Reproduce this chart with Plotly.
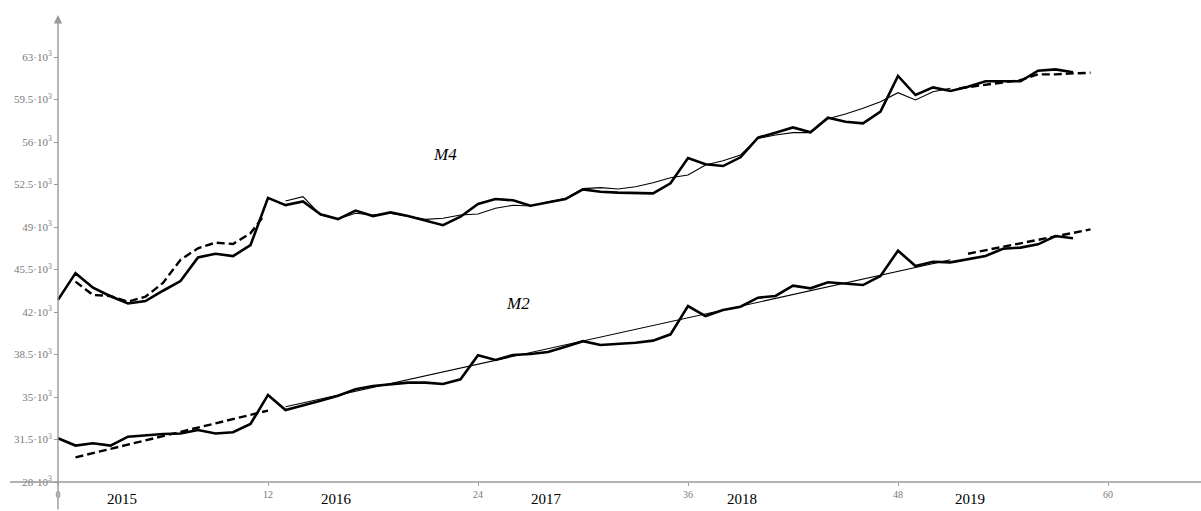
import plotly.graph_objects as go

# ---------------- data (values in thousands) ----------------
months = list(range(0, 59))
m4_actual = [43.0, 45.2, 44.0, 43.3, 42.7, 42.9, 43.75, 44.55, 46.5, 46.8, 46.6, 47.5,
             51.4, 50.8, 51.1, 50.05, 49.65, 50.35, 49.9, 50.2, 49.9, 49.5, 49.15, 49.85,
             50.9, 51.3, 51.2, 50.75, 51.0, 51.3, 52.1, 51.9, 51.83, 51.83, 51.77, 52.6,
             54.68, 54.16, 54.02, 54.74, 56.36, 56.77, 57.2, 56.8, 58.0, 57.67, 57.54, 58.5,
             61.44, 59.87, 60.5, 60.2, 60.55, 61.0, 61.0, 61.0, 61.87, 61.98, 61.74]

m4_fit_months = list(range(13, 52))
m4_fit = [51.14, 51.5, 49.99, 49.66, 50.13, 49.99, 50.13, 49.85, 49.63, 49.72, 49.99,
          50.07, 50.54, 50.79, 50.73, 51.08, 51.34, 52.16, 52.24, 52.13, 52.32, 52.65,
          53.06, 53.28, 54.1, 54.46, 54.93, 56.3, 56.58, 56.77, 56.77, 57.92, 58.31,
          58.78, 59.32, 60.06, 59.46, 60.14, 60.42]

m4_fc1_months = [1, 2, 3, 4, 5, 6, 7, 8, 9, 10, 11, 11.8]
m4_fc1 = [44.5, 43.4, 43.32, 42.85, 43.26, 44.4, 46.3, 47.25, 47.71, 47.6, 48.48, 50.0]

m4_fc2_months = [51.5, 53, 54, 55, 56, 57, 58, 59]
m4_fc2 = [60.42, 60.7, 60.9, 61.1, 61.57, 61.57, 61.65, 61.7]

m2_actual = [31.6, 31.0, 31.19, 31.0, 31.73, 31.87, 31.95, 32.0, 32.28, 32.0, 32.1, 32.78,
             35.17, 33.93, 34.29, 34.7, 35.11, 35.64, 35.9, 36.07, 36.18, 36.18, 36.07, 36.46,
             38.44, 38.05, 38.46, 38.54, 38.7, 39.14, 39.6, 39.28, 39.36, 39.47, 39.64, 40.16,
             42.49, 41.67, 42.16, 42.44, 43.18, 43.32, 44.17, 43.95, 44.45, 44.36, 44.22, 44.97,
             47.05, 45.79, 46.14, 46.09, 46.34, 46.61, 47.21, 47.3, 47.57, 48.26, 48.07]

m2_trend_months = [13, 51]
m2_trend = [34.2, 46.3]
m2_fc1_months = [1, 12]
m2_fc1 = [30.03, 33.88]
m2_fc2_months = [52, 59]
m2_fc2 = [46.8, 48.8]

x_tick_vals = [0, 12, 24, 36, 48, 60]
y_tick_vals = [28, 31.5, 35, 38.5, 42, 45.5, 49, 52.5, 56, 59.5, 63]
y_tick_text = ["28", "31.5", "35", "38.5", "42", "45.5", "49", "52.5", "56", "59.5", "63"]
years = ["2015", "2016", "2017", "2018", "2019"]
year_pos = [3.66, 15.94, 27.9, 39.1, 52.1]
series_labels = ["M4", "M2"]
series_label_pos = [(22.1, 54.93), (26.3, 42.7)]

# ---------------- figure ----------------
K = 1000.0
def sc(v):
    return [a * K for a in v]

fig = go.Figure()
thick = dict(color="black", width=2.6)
thin = dict(color="black", width=1.1)
dash = dict(color="black", width=2.4, dash="8px,4px")

fig.add_trace(go.Scatter(x=m4_fit_months, y=sc(m4_fit), mode="lines", line=thin))
fig.add_trace(go.Scatter(x=m4_fc1_months, y=sc(m4_fc1), mode="lines", line=dash))
fig.add_trace(go.Scatter(x=m4_fc2_months, y=sc(m4_fc2), mode="lines", line=dash))
fig.add_trace(go.Scatter(x=months, y=sc(m4_actual), mode="lines", line=thick))

fig.add_trace(go.Scatter(x=m2_trend_months, y=sc(m2_trend), mode="lines", line=thin))
fig.add_trace(go.Scatter(x=m2_fc1_months, y=sc(m2_fc1), mode="lines", line=dash))
fig.add_trace(go.Scatter(x=m2_fc2_months, y=sc(m2_fc2), mode="lines", line=dash))
fig.add_trace(go.Scatter(x=months, y=sc(m2_actual), mode="lines", line=thick))

W, H = 1201, 511
px_per_month = 17.5
x0_px = 58
y28_px = 482
val_per_px = 3500.0 / 42.5
xr = [-x0_px / px_per_month, (W - x0_px) / px_per_month]
yr = [28000 - (H - y28_px) * val_per_px, 63000 + 57 * val_per_px]

serif = "Liberation Serif, Times New Roman, serif"
axis_grey = "#9a9a9a"

fig.update_layout(
    width=W, height=H,
    margin=dict(l=0, r=0, t=0, b=0),
    plot_bgcolor="white", paper_bgcolor="white",
    showlegend=False,
    xaxis=dict(range=xr, showgrid=False, zeroline=False, showline=False,
               anchor="free", position=(H - y28_px) / H,
               tickvals=x_tick_vals, ticktext=[str(v) for v in x_tick_vals],
               ticks="outside", ticklen=3, tickcolor=axis_grey, tickwidth=1,
               tickfont=dict(family=serif, size=10, color="#7a7a7a")),
    yaxis=dict(range=yr, showgrid=False, zeroline=False, showline=False,
               anchor="free", position=x0_px / W,
               tickvals=[v * K for v in y_tick_vals],
               ticktext=[t + "·10<sup>3</sup>" for t in y_tick_text],
               ticks="outside", ticklen=4, tickcolor=axis_grey, tickwidth=1,
               tickfont=dict(family=serif, size=11, color="#7a7a7a")),
)

# axis lines
fig.add_shape(type="line", xref="paper", yref="y", x0=10 / W, x1=1, y0=28000, y1=28000,
              line=dict(color=axis_grey, width=1.4))
fig.add_annotation(x=0, y=63000 + 42 * val_per_px, xref="x", yref="y", text="",
                   showarrow=True, ax=0, ay=H - 15, axref="pixel", ayref="pixel",
                   arrowhead=2, arrowsize=1.2, arrowwidth=1.4, arrowcolor=axis_grey, standoff=0)

for yl, xp in zip(years, year_pos):
    fig.add_annotation(x=xp, y=(H - 499) / H, xref="x", yref="paper", yanchor="middle",
                       xanchor="center", text=yl,
                       showarrow=False, font=dict(family=serif, size=15, color="black"))

for lab, (lx, ly) in zip(series_labels, series_label_pos):
    fig.add_annotation(x=lx, y=ly * K, xref="x", yref="y", text="<i>" + lab + "</i>",
                       showarrow=False, font=dict(family=serif, size=17, color="black"))

fig.write_html("out.html")
